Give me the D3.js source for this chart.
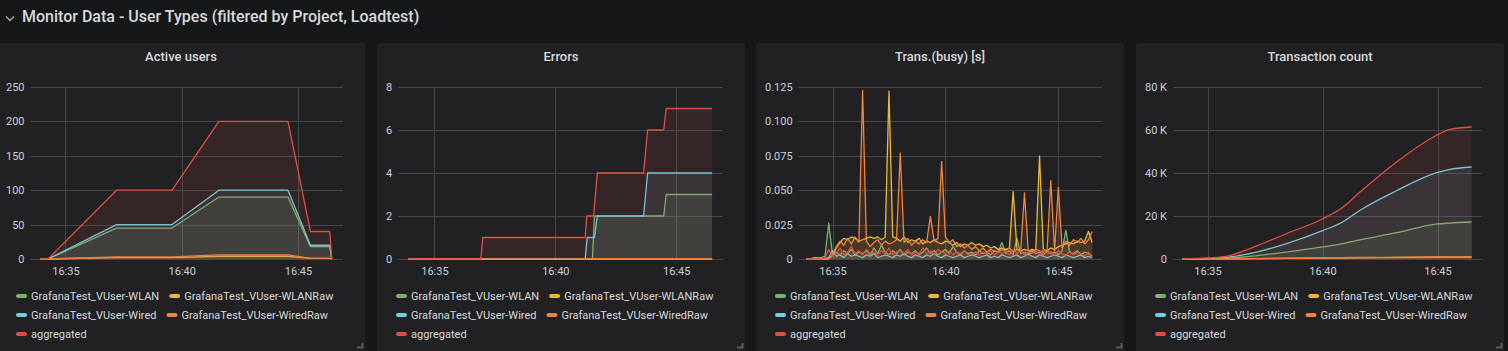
<!DOCTYPE html>
<html>
<head>
<meta charset="utf-8">
<script src="https://cdn.jsdelivr.net/npm/d3@7"></script>
<style>
  body { margin: 0; background: #161719; overflow: hidden; }
  svg { display: block; font-family: Roboto, "Noto Sans", sans-serif; }
</style>
</head>
<body>
<svg id="dash" width="1508" height="351"></svg>
<script>
const seriesNames = ["GrafanaTest_VUser-WLAN", "GrafanaTest_VUser-WLANRaw", "GrafanaTest_VUser-Wired", "GrafanaTest_VUser-WiredRaw", "aggregated"];
const seriesColors = ["#7eb26d", "#eab839", "#6ed0e0", "#ef843c", "#e24d42"];
const timeTickLabels = ["16:35:00", "16:40:00", "16:45:00"];

// Active users
const usersTimes = ["16:33:55", "16:34:15", "16:37:12", "16:39:35", "16:41:36", "16:44:34", "16:45:32", "16:46:22", "16:46:27"];
const usersWlan = [0, 0, 45, 45, 90, 90, 18, 18, 0];
const usersWlanRaw = [0, 0, 2, 2, 4, 4, 1, 1, 0];
const usersWired = [0, 0, 50, 50, 100, 100, 20, 20, 0];
const usersWiredRaw = [0, 0, 3, 3, 6, 6, 1, 1, 0];
const usersAggregated = [0, 0, 100, 100, 200, 200, 40, 40, 0];

// Errors (each series has its own change points)
const errWlanTimes = ["16:33:55", "16:41:32", "16:41:37", "16:44:29", "16:44:35", "16:46:29"];
const errWlan = [0, 0, 2, 2, 3, 3];
const errRawTimes = ["16:33:55", "16:46:29"];
const errWlanRaw = [0, 0];
const errWiredRaw = [0, 0];
const errWiredTimes = ["16:33:55", "16:41:14", "16:41:19", "16:41:37", "16:41:44", "16:43:39", "16:43:49", "16:46:29"];
const errWired = [0, 0, 1, 1, 2, 2, 4, 4];
const errAggTimes = ["16:33:55", "16:36:55", "16:37:00", "16:41:14", "16:41:18", "16:41:35", "16:41:44", "16:43:39", "16:43:49", "16:44:29", "16:44:35", "16:46:29"];
const errAggregated = [0, 0, 1, 1, 2, 2, 4, 4, 6, 6, 7, 7];

// Trans.(busy) [s], one sample every 10 s from 16:33:50
const busyStart = "16:33:50";
const busyStepSeconds = 10;
const busyWlan = [0, 0, 0.001, 0.001, 0.001, 0.002, 0.026, 0.003, 0.005, 0.003, 0.006, 0.004, 0.007, 0.003, 0.005, 0.004, 0.006, 0.003, 0.008, 0.004,
  0.010, 0.005, 0.003, 0.006, 0.004, 0.007, 0.003, 0.005, 0.004, 0.006, 0.003, 0.005, 0.008, 0.004, 0.006, 0.003, 0.005, 0.007, 0.004, 0.009,
  0.005, 0.003, 0.006, 0.004, 0.005, 0.003, 0.006, 0.004, 0.005, 0.003, 0.006, 0.005, 0.012, 0.004, 0.006, 0.003, 0.015, 0.004, 0.005, 0.003,
  0.006, 0.004, 0.005, 0.003, 0.006, 0.004, 0.005, 0.003, 0.006, 0.021, 0.005, 0.004, 0.006, 0.003, 0.005, 0.004, 0.002];
const busyWlanRaw = [0, 0, 0, 0, 0, 0, 0.001, 0.002, 0.008, 0.012, 0.015, 0.014, 0.016, 0.015, 0.013, 0.014, 0.015, 0.016, 0.015, 0.016,
  0.014, 0.016, 0.122, 0.016, 0.015, 0.013, 0.016, 0.012, 0.014, 0.013, 0.015, 0.011, 0.013, 0.012, 0.014, 0.012, 0.011, 0.013, 0.012, 0.010,
  0.012, 0.009, 0.011, 0.010, 0.012, 0.010, 0.011, 0.009, 0.010, 0.008, 0.009, 0.007, 0.008, 0.007, 0.008, 0.049, 0.007, 0.006, 0.007, 0.006,
  0.007, 0.006, 0.075, 0.007, 0.006, 0.008, 0.007, 0.009, 0.010, 0.011, 0.012, 0.011, 0.013, 0.012, 0.013, 0.020, 0.012];
const busyWired = [0, 0, 0, 0, 0, 0, 0.001, 0.006, 0.002, 0.003, 0.001, 0.004, 0.002, 0.003, 0.002, 0.001, 0.003, 0.002, 0.004, 0.001,
  0.002, 0.003, 0.002, 0.001, 0.003, 0.002, 0.004, 0.002, 0.001, 0.003, 0.002, 0.001, 0.003, 0.002, 0.004, 0.002, 0.001, 0.003, 0.002, 0.001,
  0.002, 0.003, 0.001, 0.002, 0.003, 0.002, 0.001, 0.002, 0.003, 0.001, 0.002, 0.001, 0.003, 0.002, 0.001, 0.002, 0.003, 0.001, 0.002, 0.004,
  0.002, 0.001, 0.003, 0.002, 0.001, 0.002, 0.003, 0.002, 0.001, 0.003, 0.002, 0.001, 0.002, 0.003, 0.001, 0.002, 0.001];
const busyWiredRaw = [0, 0, 0, 0, 0, 0, 0, 0.003, 0.009, 0.013, 0.010, 0.015, 0.011, 0.016, 0.012, 0.1225, 0.013, 0.009, 0.012, 0.014,
  0.010, 0.013, 0.011, 0.012, 0.014, 0.077, 0.012, 0.015, 0.010, 0.013, 0.011, 0.014, 0.012, 0.031, 0.013, 0.015, 0.071, 0.016, 0.012, 0.014,
  0.009, 0.011, 0.008, 0.010, 0.007, 0.009, 0.006, 0.008, 0.005, 0.007, 0.006, 0.005, 0.007, 0.006, 0.008, 0.005, 0.007, 0.006, 0.048, 0.006,
  0.005, 0.007, 0.006, 0.005, 0.006, 0.057, 0.006, 0.052, 0.008, 0.013, 0.010, 0.014, 0.012, 0.015, 0.011, 0.014, 0.020];
const busyAggregated = [0, 0, 0, 0, 0, 0.001, 0.007, 0.002, 0.004, 0.008, 0.003, 0.005, 0.009, 0.004, 0.006, 0.003, 0.007, 0.004, 0.005, 0.003,
  0.006, 0.004, 0.008, 0.003, 0.005, 0.006, 0.004, 0.007, 0.003, 0.005, 0.004, 0.008, 0.004, 0.006, 0.003, 0.007, 0.005, 0.004, 0.006, 0.003,
  0.005, 0.004, 0.006, 0.003, 0.004, 0.005, 0.003, 0.005, 0.004, 0.006, 0.003, 0.005, 0.004, 0.006, 0.003, 0.007, 0.004, 0.006, 0.003, 0.005,
  0.004, 0.006, 0.003, 0.007, 0.004, 0.005, 0.003, 0.006, 0.004, 0.002, 0.006, 0.003, 0.005, 0.004, 0.002, 0.005, 0.001];

// Transaction count
const countTimes = ["16:33:55", "16:35:00", "16:35:55", "16:37:05", "16:38:30", "16:40:00", "16:40:50", "16:41:40", "16:43:10", "16:45:00", "16:45:30", "16:46:29"];
const countWlan = [0, 200, 500, 1500, 3300, 5600, 7000, 9000, 12100, 16300, 16700, 17200];
const countWlanRaw = [0, 30, 80, 150, 300, 400, 450, 550, 650, 800, 850, 900];
const countWired = [0, 300, 900, 3100, 7400, 13200, 17000, 22900, 31500, 40300, 41600, 42800];
const countWiredRaw = [0, 50, 100, 200, 350, 500, 600, 700, 850, 1050, 1100, 1150];
const countAggregated = [0, 500, 1500, 5900, 12100, 18600, 23700, 31500, 44700, 57800, 60200, 61400];

const parseTime = d3.timeParse("%H:%M:%S");
const timeDomain = [parseTime("16:33:30"), parseTime("16:46:56")];
const busyTimes = busyWlan.map((_, i) => d3.timeSecond.offset(parseTime(busyStart), i * busyStepSeconds));

const svg = d3.select("#dash");
const panelLefts = [-3, 377, 756, 1136];
const panelWidth = 368;
const plotTop = 87, plotBottom = 259;
const textColor = "#d8d9da";
const tickColor = "#c7d0d9";
const gridColor = "#47474a";

// row header
svg.append("path")
  .attr("d", "M6 16.5 L10 20.5 L14 16.5")
  .attr("fill", "none")
  .attr("stroke", "#9fa7b3")
  .attr("stroke-width", 1.5);
svg.append("text")
  .attr("x", 22)
  .attr("y", 22)
  .attr("fill", textColor)
  .attr("font-size", 16)
  .attr("font-weight", 500)
  .text("Monitor Data - User Types (filtered by Project, Loadtest)");

function drawPanel(left, title, series, yMax, yTicks, yFormat, curve) {
  const g = svg.append("g").attr("transform", `translate(${left},0)`);

  g.append("rect")
    .attr("x", 0).attr("y", 43)
    .attr("width", panelWidth).attr("height", 330)
    .attr("rx", 3)
    .attr("fill", "#212124");

  g.append("text")
    .attr("x", panelWidth / 2)
    .attr("y", 61)
    .attr("text-anchor", "middle")
    .attr("fill", textColor)
    .attr("font-size", 13)
    .attr("font-weight", 500)
    .text(title);

  const yScale = d3.scaleLinear().domain([0, yMax]).range([plotBottom, plotTop]);

  // y axis labels first, so the plot can start right after the widest one
  const yAxis = g.append("g")
    .call(d3.axisLeft(yScale).tickValues(yTicks).tickFormat(yFormat).tickSize(0).tickPadding(0));
  yAxis.select(".domain").remove();
  yAxis.attr("font-size", 11).attr("font-family", null).attr("color", tickColor);
  const labelWidth = d3.max(yAxis.selectAll("text").nodes(), n => n.getComputedTextLength());
  const plotLeft = 9 + labelWidth + 6;
  const plotRight = panelWidth - 22;
  yAxis.attr("transform", `translate(${plotLeft - 6},0)`);

  const xScale = d3.scaleTime().domain(timeDomain).range([plotLeft, plotRight]);
  const xTicks = timeTickLabels.map(parseTime);

  // grid
  g.append("g").selectAll("line").data(yTicks).join("line")
    .attr("x1", plotLeft).attr("x2", plotRight)
    .attr("y1", d => Math.round(yScale(d)) + 0.5).attr("y2", d => Math.round(yScale(d)) + 0.5)
    .attr("stroke", gridColor);
  g.append("g").selectAll("line").data(xTicks).join("line")
    .attr("x1", d => Math.round(xScale(d)) + 0.5).attr("x2", d => Math.round(xScale(d)) + 0.5)
    .attr("y1", plotTop).attr("y2", plotBottom)
    .attr("stroke", gridColor);

  const xAxis = g.append("g")
    .attr("transform", `translate(0,${plotBottom})`)
    .call(d3.axisBottom(xScale).tickValues(xTicks).tickFormat(d3.timeFormat("%H:%M")).tickSize(0).tickPadding(8));
  xAxis.select(".domain").remove();
  xAxis.attr("font-size", 11).attr("font-family", null).attr("color", tickColor);

  const area = d3.area()
    .x(d => xScale(d.t))
    .y0(yScale(0))
    .y1(d => yScale(d.v))
    .curve(curve);
  const line = d3.line()
    .x(d => xScale(d.t))
    .y(d => yScale(d.v))
    .curve(curve);

  series.forEach((s, i) => {
    const pts = s.values.map((v, j) => ({ t: s.times[j], v: v }));
    g.append("path")
      .datum(pts)
      .attr("fill", seriesColors[i])
      .attr("fill-opacity", 0.1)
      .attr("d", area);
    g.append("path")
      .datum(pts)
      .attr("fill", "none")
      .attr("stroke", seriesColors[i])
      .attr("stroke-width", 1.3)
      .attr("stroke-linejoin", "round")
      .attr("d", line);
  });

  // legend, flowing left to right and wrapping
  const legend = g.append("g");
  const startX = 19, maxX = panelWidth - 10;
  let lx = startX, row = 0;
  seriesNames.forEach((name, i) => {
    const item = legend.append("g");
    item.append("rect")
      .attr("x", 0).attr("y", -2)
      .attr("width", 11).attr("height", 4)
      .attr("rx", 2)
      .attr("fill", seriesColors[i]);
    const t = item.append("text")
      .attr("x", 15).attr("y", 4)
      .attr("fill", textColor)
      .attr("font-size", 11)
      .text(name);
    const w = 15 + t.node().getComputedTextLength();
    if (lx + w > maxX && lx > startX) { row++; lx = startX; }
    item.attr("transform", `translate(${lx},${296 + row * 19})`);
    lx += w + 10;
  });

  // resize handle
  g.append("path")
    .attr("d", `M${panelWidth - 2.5} 343 V347.5 H${panelWidth - 8}`)
    .attr("fill", "none")
    .attr("stroke", "#5a5a5e")
    .attr("stroke-width", 2);
}

const usersT = usersTimes.map(parseTime);
drawPanel(panelLefts[0], "Active users", [
  { times: usersT, values: usersWlan },
  { times: usersT, values: usersWlanRaw },
  { times: usersT, values: usersWired },
  { times: usersT, values: usersWiredRaw },
  { times: usersT, values: usersAggregated }
], 250, [0, 50, 100, 150, 200, 250], d3.format("d"), d3.curveLinear);

drawPanel(panelLefts[1], "Errors", [
  { times: errWlanTimes.map(parseTime), values: errWlan },
  { times: errRawTimes.map(parseTime), values: errWlanRaw },
  { times: errWiredTimes.map(parseTime), values: errWired },
  { times: errRawTimes.map(parseTime), values: errWiredRaw },
  { times: errAggTimes.map(parseTime), values: errAggregated }
], 8, [0, 2, 4, 6, 8], d3.format("d"), d3.curveLinear);

drawPanel(panelLefts[2], "Trans.(busy) [s]", [
  { times: busyTimes, values: busyWlan },
  { times: busyTimes, values: busyWlanRaw },
  { times: busyTimes, values: busyWired },
  { times: busyTimes, values: busyWiredRaw },
  { times: busyTimes, values: busyAggregated }
], 0.125, [0, 0.025, 0.05, 0.075, 0.1, 0.125], d => d === 0 ? "0" : d.toFixed(3), d3.curveLinear);

const countT = countTimes.map(parseTime);
drawPanel(panelLefts[3], "Transaction count", [
  { times: countT, values: countWlan },
  { times: countT, values: countWlanRaw },
  { times: countT, values: countWired },
  { times: countT, values: countWiredRaw },
  { times: countT, values: countAggregated }
], 80000, [0, 20000, 40000, 60000, 80000], d => d === 0 ? "0" : (d / 1000) + " K", d3.curveMonotoneX);
</script>
</body>
</html>
